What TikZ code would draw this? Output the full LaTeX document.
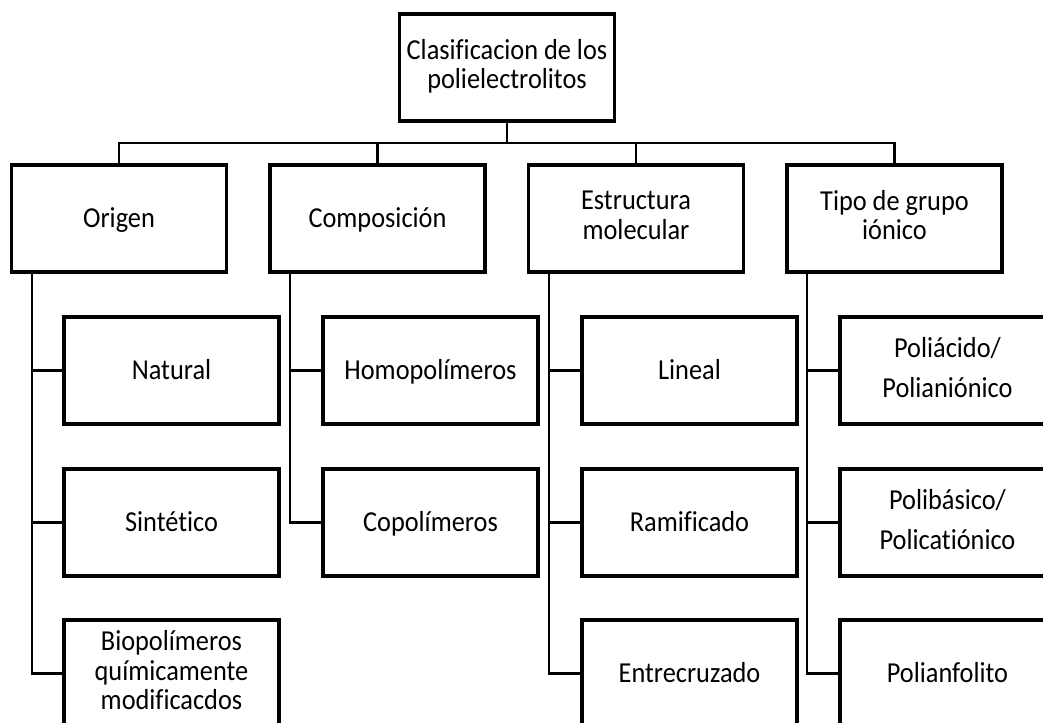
\documentclass[tikz,border=0pt]{standalone}
\usepackage{fontspec}
\setmainfont{Carlito}[FakeStretch=0.91,Ligatures=NoCommon]
\newcommand{\mystrut}{\rule[-5pt]{0pt}{24pt}}
\begin{document}
\begin{tikzpicture}[x=0.75pt,y=-0.75pt,
  box/.style={draw=black, line width=2.5pt, minimum width=161.25pt, minimum height=80.25pt,
    inner sep=0pt, align=center, font=\fontsize{21.7}{22}\selectfont,
    execute at begin node=\mystrut, execute at end node=\mystrut},
  widebox/.style={box, font=\fontsize{21.7}{30}\selectfont},
  conn/.style={draw=black, line width=1.6pt}]
\clip (0,0) rectangle (1043,723);
\fill[white] (0,0) rectangle (1043,723);
% top
\node[box] (top) at (507,67.5) {Clasificacion de los\\polielectrolitos};
% level 1
\node[box] (ori) at (119,218.5) {Origen};
\node[box] (com) at (377.5,218.5) {Composición};
\node[box] (est) at (636,218.5) {Estructura\\molecular};
\node[box] (tip) at (894.5,218.5) {Tipo de grupo\\iónico};
% level 2
\node[box] (nat) at (171.5,370.5) {Natural};
\node[box] (sin) at (171.5,522.5) {Sintético};
\node[box] (bio) at (171.5,673.5) {Biopolímeros\\químicamente\\modificacdos};
\node[box] (hom) at (430.5,370.5) {Homopolímeros};
\node[box] (cop) at (430.5,522.5) {Copolímeros};
\node[box] (lin) at (689.5,370.5) {Lineal};
\node[box] (ram) at (689.5,522.5) {Ramificado};
\node[box] (ent) at (689.5,673.5) {Entrecruzado};
\node[widebox] (pac) at (947.5,370.5) {Poliácido/\\Polianiónico};
\node[widebox] (pba) at (947.5,522.5) {Polibásico/\\Policatiónico};
\node[box] (pan) at (947.5,673.5) {Polianfolito};
% connectors top
\coordinate (bar) at (507,143);
\draw[conn] (top.south) -- (bar);
\draw[conn] (bar) -| (ori.north);
\draw[conn] (bar) -| (com.north);
\draw[conn] (bar) -| (est.north);
\draw[conn] (bar) -| (tip.north);
% trunks
\foreach \p/\c in {ori/nat,ori/sin,ori/bio,com/hom,com/cop,est/lin,est/ram,est/ent,tip/pac,tip/pba,tip/pan}{
  \draw[conn] ([xshift=16.5pt]\p.south west) |- (\c.west);
}
\end{tikzpicture}
\end{document}
